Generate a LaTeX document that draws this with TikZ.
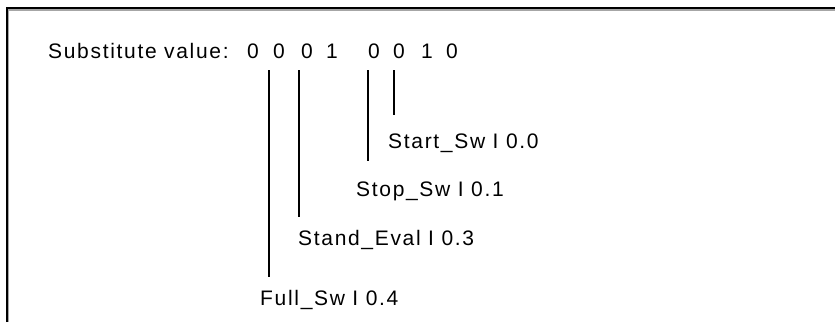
\documentclass[tikz,border=0pt]{standalone}
\usepackage{fontspec}
\setmainfont{Liberation Sans}[LetterSpace=8]
\begin{document}
\begin{tikzpicture}[x=1bp,y=-1bp,
  txt/.style={inner sep=0pt, font=\fontsize{21bp}{25bp}\selectfont},
  lbl/.style={txt, anchor=base west},
  digit/.style={txt, anchor=base},
  lead/.style={line width=1.8bp, black}]
\useasboundingbox (0,0) rectangle (835,322);
% frame
\draw[line width=1.5bp, gray!70] (8,322) -- (8,10) -- (835,10);
\draw[line width=2bp, black] (6.5,322) -- (6.5,8.3) -- (835,8.3);
% header
\node[lbl] (subst) at (48,58) {Substitute value:};
\node[digit] (d1) at (253,58) {0};
\node[digit] (d2) at (279,58) {0};
\node[digit] (d3) at (307,58) {0};
\node[digit] (d4) at (332,58) {1};
\node[digit] (d5) at (374,58) {0};
\node[digit] (d6) at (399,58) {0};
\node[digit] (d7) at (427,58) {1};
\node[digit] (d8) at (452,58) {0};
% labels
\node[lbl] (start) at (388,148) {Start\_Sw I 0.0};
\node[lbl] (stop) at (356,196) {Stop\_Sw I 0.1};
\node[lbl] (stand) at (298,245) {Stand\_Eval I 0.3};
\node[lbl] (full) at (260,305) {Full\_Sw I 0.4};
% leader lines
\coordinate (t1) at (269,70);  \coordinate (b1) at (269,277);
\coordinate (t2) at (299,70);  \coordinate (b2) at (299,217);
\coordinate (t3) at (368,70);  \coordinate (b3) at (368,161);
\coordinate (t4) at (394,70);  \coordinate (b4) at (394,115);
\draw[lead] (t1) -- (b1);
\draw[lead] (t2) -- (b2);
\draw[lead] (t3) -- (b3);
\draw[lead] (t4) -- (b4);
\end{tikzpicture}
\end{document}
